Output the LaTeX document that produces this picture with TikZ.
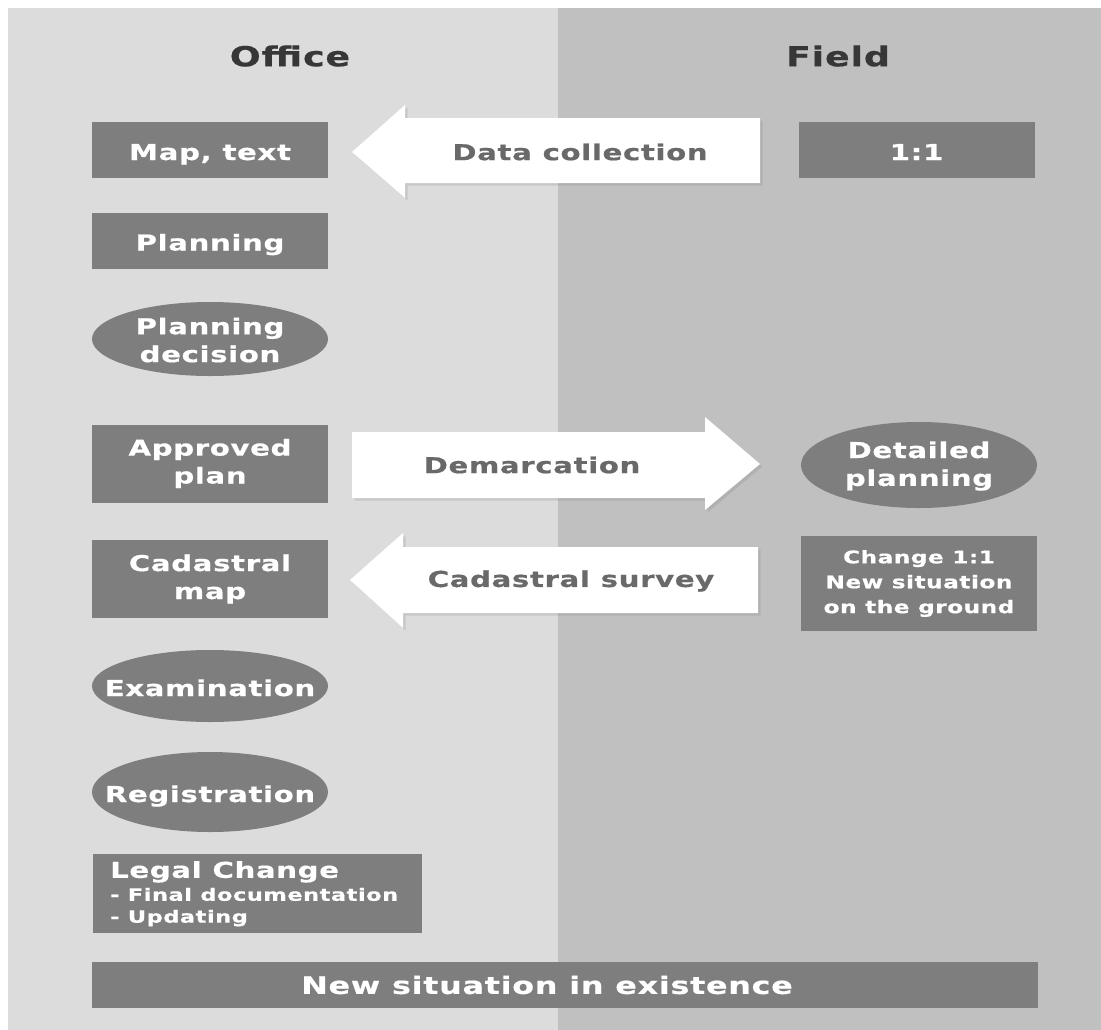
\documentclass[tikz,border=0pt]{standalone}
\usepackage{fontspec}
\newfontfamily\lbl{DejaVu Sans}[FakeStretch=1.33,LetterSpace=3,FakeBold=0.6]
\usetikzlibrary{shapes.geometric,shadows}
\definecolor{officebg}{RGB}{220,220,220}
\definecolor{fieldbg}{RGB}{192,192,192}
\definecolor{boxgray}{RGB}{126,126,126}
\definecolor{headtext}{RGB}{55,55,55}
\definecolor{arrowtext}{RGB}{105,105,105}
\tikzset{
  every node/.style={font=\lbl\bfseries},
  head/.style={text=headtext, font=\lbl\bfseries\fontsize{27.5}{30}\selectfont},
  stepbox/.style={rectangle, fill=boxgray, text=white, inner sep=0pt,
    minimum width=236bp, align=center, font=\lbl\bfseries\fontsize{22}{28}\selectfont},
  oneline/.style={text height=20bp, text depth=0pt},
  stepoval/.style={ellipse, fill=boxgray, inner sep=0pt, minimum width=236bp},
  ovaltext/.style={text=white, inner sep=0pt, align=center,
    font=\lbl\bfseries\fontsize{22}{28}\selectfont},
  bigarrow/.style={fill=white, drop shadow={shadow xshift=2.5bp, shadow yshift=-2.5bp, opacity=0.22}},
  arrowlabel/.style={text=arrowtext, font=\lbl\bfseries\fontsize{22}{26}\selectfont},
}
\begin{document}
\begin{tikzpicture}[x=1bp, y=-1bp]
  % page and the two columns
  \fill[white] (0,0) rectangle (1101,1030);
  \fill[officebg] (8,8) rectangle (558,1030);
  \fill[fieldbg] (558,8) rectangle (1101,1030);
  \useasboundingbox (0,0) rectangle (1101,1030);

  % column headings
  \node[head] (office) at (290,56) {Office};
  \node[head] (field) at (838,56) {Field};

  % office column
  \node[stepbox, oneline, minimum height=56bp] (maptext) at (210,150) {Map, text};
  \node[stepbox, oneline, minimum height=56bp] (planning) at (210,240.5) {Planning};
  \node[stepoval, minimum height=74bp] (decision) at (210,339) {};
  \node[ovaltext] (decisiontext) at ([yshift=-1bp]decision.center) {Planning\\decision};
  \node[stepbox, minimum height=78bp] (approved) at (210,463.5) {Approved\\plan};
  \node[stepbox, minimum height=78bp] (cadmap) at (210,579) {Cadastral\\map};
  \node[stepoval, minimum height=72bp] (exam) at (210,686) {};
  \node[ovaltext, oneline] (examtext) at (exam.center) {Examination};
  \node[stepoval, minimum height=80bp] (regist) at (210,792) {};
  \node[ovaltext, oneline] (registtext) at (regist.center) {Registration};
  \node[rectangle, fill=boxgray, minimum width=329bp, minimum height=79bp] (legal) at (257.5,893.5) {};
  \node[anchor=north west, text=white, align=left, inner sep=0pt,
        font=\lbl\bfseries\fontsize{22}{24}\selectfont] (legaltext) at (110,861)
        {Legal Change\\[-1bp]{\fontsize{17}{22}\selectfont - Final documentation}\\[-2bp]{\fontsize{17}{22}\selectfont - Updating}};

  % field column
  \node[stepbox, oneline, minimum height=56bp] (ratio) at (916.5,150) {1:1};
  \node[stepoval, minimum height=86bp] (detailed) at (919,465) {};
  \node[ovaltext] (detailedtext) at ([yshift=-1bp]detailed.center) {Detailed\\planning};
  \node[stepbox, minimum height=95bp, font=\lbl\bfseries\fontsize{17.5}{25}\selectfont] (change) at (919,583.5)
        {Change 1:1\\New situation\\on the ground};

  % closing bar across both columns
  \node[rectangle, fill=boxgray, minimum width=946bp, minimum height=46bp] (newsit) at (565,985) {};
  \node[text=white, font=\lbl\bfseries\fontsize{24}{26}\selectfont] (newsittext) at (547,985) {New situation in existence};

  % block arrows between the columns
  \coordinate (dcTip) at (352,152);
  \coordinate (dcEnd) at (760,152);
  \fill[bigarrow] (dcTip) -- (405,105) -- (405,118) -- (dcEnd |- 0,118) -- (dcEnd |- 0,183)
        -- (405,183) -- (405,198) -- cycle;
  \node[arrowlabel] (dclabel) at (580,152) {Data collection};

  \coordinate (dmStart) at (352,465);
  \coordinate (dmTip) at (760,464);
  \fill[bigarrow] (dmStart |- 0,432) -- (705,432) -- (705,417) -- (dmTip) -- (705,510) -- (705,498)
        -- (dmStart |- 0,498) -- cycle;
  \node[arrowlabel] (dmlabel) at (532,465) {Demarcation};

  \coordinate (csTip) at (350,580);
  \coordinate (csEnd) at (758,580);
  \fill[bigarrow] (csTip) -- (403,533) -- (403,547) -- (csEnd |- 0,547) -- (csEnd |- 0,613)
        -- (403,613) -- (403,628) -- cycle;
  \node[arrowlabel] (cslabel) at (571,581) {Cadastral survey};
\end{tikzpicture}
\end{document}
